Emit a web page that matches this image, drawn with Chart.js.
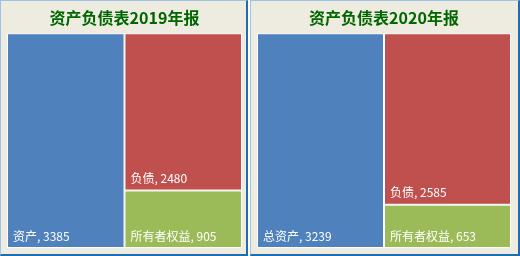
<!DOCTYPE html>
<html>
<head>
<meta charset="utf-8">
<script src="https://cdn.jsdelivr.net/npm/chart.js@4/dist/chart.umd.min.js"></script>
<style>
  body { margin: 0; background: #fff; }
  .panel {
    position: absolute; top: 0; height: 253px;
    background: #EEECE1;
    border-left: 1px solid #9DC3E6; border-top: 1px solid #9DC3E6;
    border-right: 2px solid #1F6CB0; border-bottom: 2px solid #1F6CB0;
  }
  .panel canvas { display: block; }
</style>
</head>
<body>
<div class="panel" style="left:0; width:245px;"><canvas id="c2019"></canvas></div>
<div class="panel" style="left:250px; width:267px;"><canvas id="c2020"></canvas></div>
<script>
// 数据
const titles = ['资产负债表2019年报', '资产负债表2020年报'];
const assetLabels = ['资产', '总资产'];
const assets = [3385, 3239];
const liabilities = [2480, 2585];
const equity = [905, 653];
const colors = { asset: '#4F81BD', liab: '#C0504D', equity: '#9BBB59' };

// 在每个矩形左下角写标签
const labelPlugin = {
  id: 'boxLabels',
  afterDatasetsDraw(chart) {
    const ctx = chart.ctx;
    ctx.save();
    ctx.font = '12px "Noto Sans CJK SC", sans-serif';
    ctx.fillStyle = '#fff';
    ctx.textBaseline = 'middle';
    chart.data.datasets.forEach((ds, i) => {
      chart.getDatasetMeta(i).data.forEach((bar, j) => {
        const v = ds.data[j];
        if (v == null) return;
        const left = bar.x - bar.width / 2;
        const bottom = Math.max(bar.base, bar.y);
        ctx.fillText(ds.label + ', ' + v, left + 6, bottom - 12);
      });
    });
    ctx.restore();
  }
};

function makeChart(id, k, w, padRight) {
  const el = document.getElementById(id);
  el.width = w; el.height = 253;
  const common = { borderColor: '#fff', borderWidth: 1, borderSkipped: false, inflateAmount: 0 };
  new Chart(el, {
    type: 'bar',
    data: {
      labels: ['a', 'b'],
      datasets: [
        { label: assetLabels[k], data: [assets[k], null], backgroundColor: colors.asset, ...common },
        { label: '所有者权益', data: [null, equity[k]], backgroundColor: colors.equity, ...common },
        { label: '负债', data: [null, liabilities[k]], backgroundColor: colors.liab, ...common }
      ]
    },
    options: {
      responsive: false,
      animation: false,
      layout: { padding: { left: 6, right: padRight, top: 0, bottom: 6 } },
      datasets: { bar: { categoryPercentage: 1, barPercentage: 1 } },
      scales: {
        x: { stacked: true, display: false },
        y: { stacked: true, display: false, min: 0, max: assets[k] }
      },
      plugins: {
        legend: { display: false },
        tooltip: { enabled: false },
        title: {
          display: true,
          text: titles[k],
          color: '#006600',
          font: { size: 16, weight: 'bold', family: '"Noto Sans CJK SC", sans-serif', lineHeight: 1.2 },
          padding: { top: 7, bottom: 6 }
        }
      }
    },
    plugins: [labelPlugin]
  });
}

makeChart('c2019', 0, 245, 4);
makeChart('c2020', 1, 267, 7);
</script>
</body>
</html>
